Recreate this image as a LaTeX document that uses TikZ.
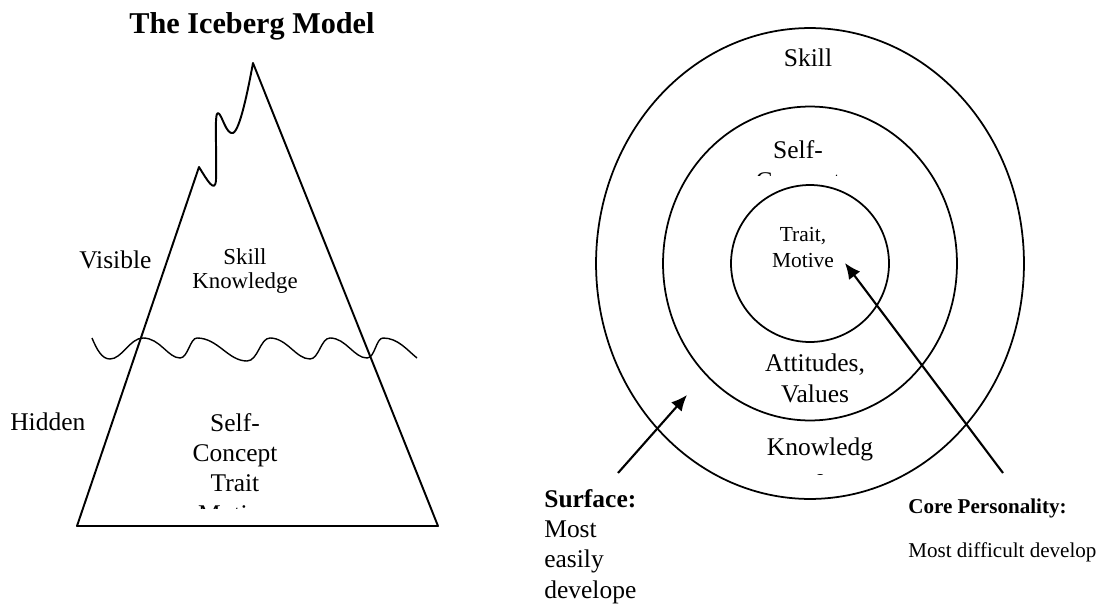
\documentclass[tikz,border=0pt]{standalone}
\usepackage{fontspec}
\setmainfont{Liberation Serif}
\usetikzlibrary{arrows.meta}

\tikzset{
  edge/.style={line width=1.1pt, line join=round},
  wave/.style={line width=0.8pt},
  ring/.style={line width=1pt},
  pointer/.style={line width=1.2pt, -{Latex[length=9pt,width=8pt]}},
  big/.style={inner sep=0pt, align=center, font=\fontsize{14.5}{17.2}\selectfont},
  mid/.style={inner sep=0pt, align=center, font=\fontsize{13}{13.2}\selectfont},
  small/.style={inner sep=0pt, align=left, font=\fontsize{12}{14}\selectfont}
}

\begin{document}
\begin{tikzpicture}[x=0.02cm, y=-0.02cm]
\useasboundingbox (0,0) rectangle (1102,608);

\node[inner sep=0pt, anchor=base, font=\fontsize{17.2}{20}\selectfont\bfseries] (title) at (252,34) {The Iceberg Model};

\coordinate (bl) at (77,526);
\coordinate (br) at (438,526);
\coordinate (peak) at (253,63);
\coordinate (p1) at (199,167);
\coordinate (p2) at (218,113);
\draw[edge] (bl) -- (p1) .. controls (207,180) and (215,194) .. (216,180)
  .. controls (217,150) and (214,112) .. (p2) .. controls (222,114) and (226,135) .. (233,133)
  .. controls (240,130) and (248,90) .. (peak) -- (br) -- cycle;
\draw[wave] (92,338) .. controls (97,350) and (102,359) .. (110,359)
  .. controls (122,359) and (130,338) .. (143,338) .. controls (160,338) and (168,358) .. (180,358)
  .. controls (188,358) and (190,338) .. (197,338) .. controls (218,338) and (228,361) .. (247,361)
  .. controls (258,361) and (260,338) .. (270,338) .. controls (287,338) and (296,359) .. (310,359)
  .. controls (319,359) and (321,338) .. (330,338) .. controls (346,338) and (354,358) .. (367,358)
  .. controls (375,358) and (376,338) .. (383,338) .. controls (398,338) and (407,350) .. (417,358);

\node[big, anchor=base west] (visible) at (79,268) {Visible};
\node[big, anchor=base west] (hidden) at (10,430) {Hidden};
\node[mid, anchor=base] (above) at (245,288) {Skill\\Knowledge};
\begin{scope}
  \clip (150,380) rectangle (330,508);
  \node[big, anchor=base] (below) at (235,522) {Self-\\Concept\\Trait\\Motive};
\end{scope}

\coordinate (ctr) at (810,263.5);
\draw[ring] (ctr) ellipse [x radius=4.28cm, y radius=4.71cm];
\draw[ring] (ctr) ellipse [x radius=2.94cm, y radius=3.14cm];
\draw[ring] (ctr) ellipse [x radius=1.58cm, y radius=1.57cm];

\node[big, anchor=base] (skill) at (808,67) {Skill};
\begin{scope}
  \clip (740,120) rectangle (870,175);
  \node[big, anchor=base] (self) at (798,189) {Self-\\Concept};
\end{scope}
\node[mid, font=\fontsize{12.2}{14.7}\selectfont, anchor=base] (trait) at (803,267) {Trait,\\Motive};
\node[big, anchor=base] (attitude) at (815,402) {Attitudes,\\Values};
\begin{scope}
  \clip (740,430) rectangle (900,474);
  \node[big, anchor=base] (know) at (820,486) {Knowledg\\e};
\end{scope}

\node[big, align=left, anchor=base west] (surface) at (544,598) {\textbf{Surface:}\\Most\\easily\\develope};
\node[small, anchor=base west] (core) at (908,513) {\textbf{Core Personality:}};
\node[small, anchor=base west] (coretext) at (908,557) {Most difficult develop};

\coordinate (surftail) at (618,473);
\coordinate (surftip) at (687,395);
\coordinate (coretail) at (1003,473);
\coordinate (coretip) at (845,263);
\draw[pointer] (surftail) -- (surftip);
\draw[pointer] (coretail) -- (coretip);
\end{tikzpicture}
\end{document}
